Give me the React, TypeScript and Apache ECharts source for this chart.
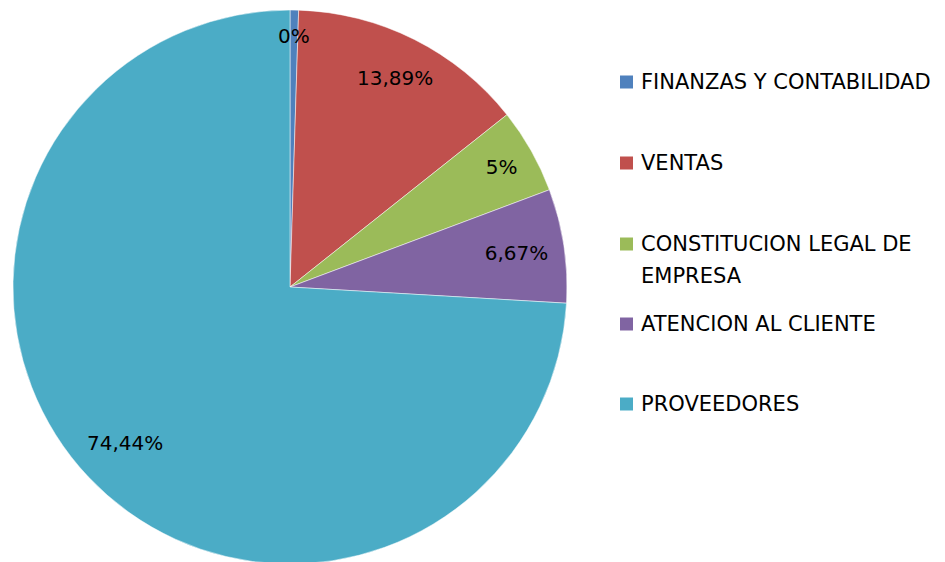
import React, { useEffect, useRef } from "react";
import * as echarts from "echarts";

const categories = [
  "FINANZAS Y CONTABILIDAD",
  "VENTAS",
  "CONSTITUCION LEGAL DE EMPRESA",
  "ATENCION AL CLIENTE",
  "PROVEEDORES",
];
const legendTexts = [
  "FINANZAS Y CONTABILIDAD",
  "VENTAS",
  "CONSTITUCION LEGAL DE\nEMPRESA",
  "ATENCION AL CLIENTE",
  "PROVEEDORES",
];
const values = [0.5, 13.89, 5, 6.67, 74.44];
const valueLabels = ["0%", "13,89%", "5%", "6,67%", "74,44%"];
const colors = ["#4F81BD", "#C0504D", "#9BBB59", "#8064A2", "#4BACC6"];

const FONT = "'DejaVu Sans', 'Open Sans', sans-serif";
const CX = 290;
const CY = 287;
const R = 277;
const LABEL_PAD = 15;
const legendCenters = [82, 163, 244, 324, 404];
const LINE_H = 32;

export default function App() {
  const ref = useRef<HTMLDivElement>(null);
  useEffect(() => {
    if (!ref.current) return;
    const chart = echarts.init(ref.current, null, { renderer: "svg" });
    const data = categories.map((name, i) => ({ name, value: values[i] }));
    const legends = categories.map((name, i) => {
      const parts = legendTexts[i].split("\n");
      // a blank leading line keeps the marker level with the first text line
      const text = parts.length > 1 ? [" ", ...parts].join("\n") : parts[0];
      const lines = text.split("\n").length;
      return {
        show: true,
        left: 618,
        top: legendCenters[i] - (lines * LINE_H) / 2,
        padding: 0,
        itemWidth: 15,
        itemHeight: 15,
        itemGap: 0,
        icon: "rect",
        selectedMode: false,
        data: [name],
        formatter: () => text,
        textStyle: {
          fontFamily: FONT,
          fontSize: 21,
          color: "#000",
          lineHeight: LINE_H,
          padding: [0, 0, 0, 2],
        },
      };
    });
    chart.setOption({
      animation: false,
      color: colors,
      backgroundColor: "#fff",
      legend: legends,
      series: [
        {
          type: "pie",
          center: [CX, CY],
          radius: R,
          startAngle: 90,
          clockwise: true,
          avoidLabelOverlap: false,
          labelLine: { show: false },
          itemStyle: { borderColor: "#fff", borderWidth: 0.5 },
          emphasis: { disabled: true },
          label: {
            show: true,
            position: "inside",
            fontFamily: FONT,
            fontSize: 20,
            color: "#000",
            formatter: (p: any) => valueLabels[p.dataIndex],
          },
          // "inside end" placement: push each label outward along its
          // mid-angle until its farthest corner sits LABEL_PAD inside the rim
          labelLayout: (p: any) => {
            const r = p.labelRect;
            const mx = r.x + r.width / 2;
            const my = r.y + r.height / 2;
            let ux = mx - CX;
            let uy = my - CY;
            const n = Math.hypot(ux, uy) || 1;
            ux /= n;
            uy /= n;
            const lim = R - LABEL_PAD;
            let d = Infinity;
            for (const sx of [-1, 1]) {
              for (const sy of [-1, 1]) {
                const ox = (sx * r.width) / 2;
                const oy = (sy * r.height) / 2;
                const b = ux * ox + uy * oy;
                const dd = -b + Math.sqrt(b * b - (ox * ox + oy * oy) + lim * lim);
                d = Math.min(d, dd);
              }
            }
            return {
              x: CX + ux * d,
              y: CY + uy * d,
              align: "center",
              verticalAlign: "middle",
            };
          },
          data,
        },
      ],
    });
    return () => chart.dispose();
  }, []);
  return (
    <div
      ref={ref}
      style={{ position: "fixed", left: 0, top: 0, width: 945, height: 562 }}
    />
  );
}
